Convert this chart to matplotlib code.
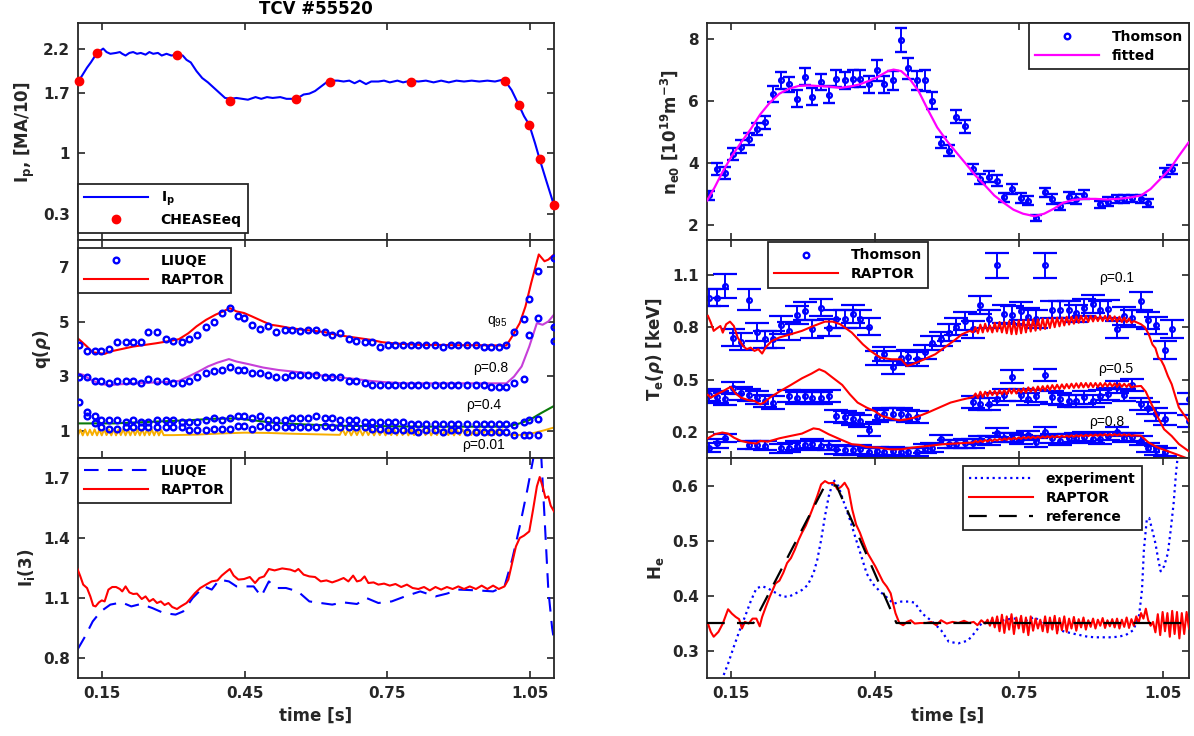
import numpy as np
import matplotlib
matplotlib.use('Agg')
import matplotlib.pyplot as plt
from matplotlib.lines import Line2D

plt.rcParams['font.family'] = ['DejaVu Sans']
plt.rcParams['font.weight'] = 'bold'
plt.rcParams['axes.labelweight'] = 'bold'
plt.rcParams['mathtext.fontset'] = 'dejavusans'

nan = np.nan

# ---------------- Plasma current ----------------
ip_t = [0.102,0.110,0.119,0.127,0.140,0.148,0.153,0.160,0.168,0.180,
        0.188,0.193,0.200,0.208,0.216,0.224,0.232,0.242,0.250,0.258,
        0.268,0.276,0.286,0.296,0.308,0.320,0.328,0.337,0.349,0.361,
        0.373,0.385,0.397,0.409,0.421,0.433,0.445,0.457,0.473,0.485,
        0.497,0.509,0.525,0.538,0.550,0.562,0.574,0.586,0.598,0.610,
        0.622,0.634,0.646,0.658,0.670,0.681,0.692,0.705,0.716,0.731,
        0.743,0.755,0.771,0.783,0.799,0.815,0.831,0.847,0.863,0.879,
        0.895,0.911,0.927,0.943,0.960,0.976,0.992,0.997,1.011,1.026,
        1.037,1.048,1.060,1.070,1.084,1.100]
ip_v = [1.84,1.91,1.99,2.05,2.16,2.19,2.21,2.17,2.15,2.16,
        2.17,2.15,2.13,2.16,2.17,2.15,2.16,2.14,2.17,2.15,
        2.16,2.13,2.15,2.13,2.14,2.13,2.08,2.05,1.95,1.87,
        1.82,1.76,1.70,1.64,1.63,1.64,1.63,1.62,1.65,1.63,
        1.65,1.64,1.65,1.63,1.63,1.64,1.68,1.69,1.72,1.77,
        1.82,1.84,1.84,1.83,1.84,1.81,1.84,1.80,1.83,1.83,
        1.84,1.82,1.84,1.82,1.84,1.83,1.84,1.82,1.84,1.82,
        1.84,1.83,1.84,1.83,1.84,1.83,1.85,1.84,1.73,1.56,
        1.43,1.33,1.12,0.93,0.68,0.40]
chease_t = [0.102,0.140,0.308,0.419,0.558,0.630,0.799,0.997,1.026,1.048,1.070,1.100]
chease_v = [1.84,2.16,2.14,1.60,1.63,1.82,1.82,1.84,1.56,1.33,0.93,0.40]

# ---------------- Safety factor ----------------
liuqe_t = [0.102,0.119,0.136,0.148,0.166,0.182,0.200,0.216,0.232,0.248,
           0.266,0.284,0.300,0.318,0.334,0.351,0.369,0.385,0.402,0.419,
           0.437,0.449,0.465,0.483,0.499,0.516,0.534,0.550,0.566,0.584,
           0.600,0.618,0.634,0.650,0.669,0.685,0.702,0.718,0.735,0.751,
           0.767,0.783,0.799,0.815,0.831,0.849,0.867,0.883,0.899,0.917,
           0.936,0.952,0.968,0.984,1.000,1.016,1.036,1.048,1.067,1.100]
liuqe_q95 = [4.15,3.93,3.94,3.94,4.01,4.24,4.24,4.24,4.24,4.61,
             4.61,4.36,4.30,4.24,4.36,4.52,4.80,4.98,5.32,5.50,
             5.20,5.13,4.89,4.74,4.83,4.61,4.68,4.68,4.67,4.68,
             4.68,4.61,4.50,4.58,4.36,4.30,4.24,4.24,4.09,4.15,
             4.15,4.15,4.15,4.15,4.15,4.15,4.09,4.15,4.15,4.15,
             4.15,4.09,4.09,4.09,4.15,4.61,5.11,5.85,6.88,7.34]
liuqe_q08 = [2.96,2.96,2.83,2.83,2.74,2.83,2.83,2.83,2.74,2.90,
             2.83,2.83,2.74,2.74,2.83,2.96,3.11,3.20,3.23,3.33,
             3.23,3.23,3.11,3.11,3.05,2.96,2.96,3.05,3.05,3.05,
             3.05,2.96,2.96,2.96,2.83,2.83,2.74,2.68,2.68,2.68,
             2.68,2.68,2.68,2.68,2.68,2.68,2.68,2.68,2.68,2.68,
             2.68,2.68,2.60,2.60,2.60,2.74,2.90,4.52,5.13,4.80]
liuqe_q04 = [2.07,1.68,1.53,1.39,1.39,1.39,1.32,1.39,1.32,1.32,
             1.39,1.39,1.39,1.32,1.32,1.32,1.39,1.47,1.41,1.47,
             1.53,1.53,1.47,1.53,1.39,1.39,1.39,1.47,1.47,1.47,
             1.53,1.47,1.47,1.39,1.39,1.39,1.32,1.32,1.32,1.32,
             1.32,1.32,1.24,1.24,1.24,1.24,1.24,1.24,1.24,1.24,
             1.24,1.24,1.24,1.24,1.24,1.21,1.33,1.39,1.43,4.31]
liuqe_q001 = [nan,1.53,1.29,1.15,1.08,1.08,1.12,1.12,1.12,1.12,
              1.12,1.12,1.12,1.12,1.03,1.03,1.03,1.08,1.08,1.08,
              1.18,1.18,1.08,1.18,1.12,1.15,1.12,1.15,1.15,1.15,
              1.15,1.18,1.15,1.12,1.12,1.12,1.12,1.06,1.06,1.02,
              1.02,1.02,1.02,0.96,1.02,1.02,0.96,1.02,1.02,0.96,
              0.96,0.96,0.96,0.96,0.96,0.84,0.84,0.84,0.84,nan]

rq95_t = [0.099,0.107,0.119,0.131,0.144,0.156,0.168,0.184,0.200,0.216,
          0.240,0.264,0.288,0.312,0.332,0.349,0.369,0.389,0.405,0.419,
          0.433,0.449,0.465,0.489,0.505,0.521,0.546,0.570,0.594,0.618,
          0.642,0.666,0.690,0.714,0.739,0.763,0.787,0.819,0.859,0.899,
          0.940,0.980,1.000,1.012,1.028,1.040,1.052,1.068,1.080,1.088,1.100]
rq95_v = [4.40,4.28,4.09,3.88,3.85,3.82,3.91,3.97,4.03,4.09,
          4.15,4.21,4.28,4.36,4.58,4.83,5.07,5.26,5.38,5.50,
          5.38,5.32,5.20,5.01,4.89,4.85,4.77,4.71,4.67,4.62,
          4.52,4.46,4.40,4.34,4.25,4.21,4.18,4.15,4.15,4.14,
          4.14,4.13,4.13,4.46,4.95,5.56,6.42,7.47,7.22,7.28,7.47]
rq08_t = [0.099,0.111,0.127,0.148,0.168,0.192,0.224,0.256,0.288,0.312,
          0.332,0.353,0.373,0.393,0.417,0.433,0.457,0.489,0.521,0.553,
          0.586,0.618,0.650,0.682,0.714,0.747,0.787,0.859,0.940,1.000,
          1.016,1.032,1.048,1.064,1.076,1.088,1.100]
rq08_v = [3.11,3.05,2.87,2.71,2.68,2.71,2.74,2.77,2.79,2.83,
          2.99,3.17,3.36,3.50,3.63,3.54,3.45,3.32,3.23,3.17,
          3.11,3.01,2.96,2.90,2.83,2.78,2.74,2.74,2.74,2.74,
          2.99,3.36,4.09,4.95,4.89,5.01,5.26]
rq04_t = [0.099,0.176,0.256,0.337,0.385,0.433,0.465,0.513,0.578,0.658,
          0.739,0.819,0.899,1.000,1.024,1.048,1.072,1.100]
rq04_v = [1.27,1.27,1.33,1.39,1.44,1.45,1.39,1.29,1.23,1.18,
          1.17,1.15,1.15,1.15,1.25,1.39,1.64,1.91]
rq001_t_a = [0.100,0.105,0.110,0.115,0.120,0.125,0.130,0.135,0.140,0.145,
             0.150,0.155,0.160,0.165,0.170,0.175,0.180,0.185,0.190,0.195,
             0.200,0.205,0.210,0.215,0.220,0.225,0.230,0.235,0.240,0.245,
             0.250,0.255,0.260,0.265,0.270,0.275,0.280]
rq001_v_a = [0.84,1.04,0.83,1.05,0.83,1.04,0.84,1.05,0.83,1.04,
             0.83,1.05,0.84,1.04,0.83,1.05,0.83,1.04,0.84,1.05,
             0.83,1.04,0.83,1.05,0.84,1.04,0.83,1.05,0.83,1.04,
             0.84,1.05,0.83,1.04,0.83,1.03,0.84]
rq001_t_b = [0.290,0.300,0.350,0.400,0.450,0.500,0.550,0.600,0.650]
rq001_v_b = [0.84,0.84,0.86,0.90,0.93,0.92,0.89,0.87,0.85]
rq001_t_c = [0.656,0.662,0.668,0.674,0.680,0.686,0.692,0.698,0.704,0.710,
             0.716,0.722,0.728,0.734,0.740,0.746,0.752,0.758,0.764,0.770,
             0.776,0.782,0.788,0.794,0.800,0.806,0.812,0.818,0.824,0.830,
             0.836,0.842,0.848,0.854,0.860,0.866,0.872,0.878,0.884,0.890,
             0.896,0.902,0.908,0.914,0.920,0.926,0.932,0.938,0.944,0.950,
             0.956,0.962,0.968,0.974,0.980,0.986,0.992,0.998]
rq001_v_c = [1.05,0.84,1.05,0.83,1.04,0.84,1.05,0.83,1.05,0.84,
             1.04,0.83,1.05,0.84,1.05,0.83,1.04,0.84,1.05,0.83,
             1.05,0.84,1.04,0.83,1.05,0.84,1.05,0.83,1.04,0.84,
             1.05,0.83,1.05,0.84,1.04,0.83,1.05,0.84,1.05,0.83,
             1.04,0.84,1.05,0.83,1.05,0.84,1.04,0.83,1.05,0.84,
             1.05,0.83,1.04,0.84,1.05,0.83,1.05,0.84]
rq001_t_d = [1.004,1.020,1.040,1.060,1.080,1.100]
rq001_v_d = [0.86,0.84,0.86,0.93,1.02,1.12]

# ---------------- Internal inductance ----------------
li_r_t = [0.099,0.105,0.111,0.119,0.126,0.132,0.137,0.144,0.150,0.156,
          0.164,0.172,0.180,0.188,0.193,0.200,0.208,0.216,0.224,0.234,
          0.242,0.250,0.258,0.266,0.274,0.282,0.290,0.298,0.308,0.316,
          0.328,0.337,0.346,0.357,0.369,0.381,0.393,0.402,0.410,0.419,
          0.427,0.437,0.449,0.461,0.472,0.481,0.491,0.501,0.513,0.529,
          0.546,0.556,0.563,0.574,0.586,0.598,0.610,0.622,0.634,0.646,
          0.658,0.668,0.678,0.686,0.694,0.702,0.710,0.721,0.731,0.743,
          0.755,0.767,0.779,0.791,0.803,0.815,0.827,0.839,0.851,0.863,
          0.875,0.887,0.899,0.911,0.923,0.936,0.948,0.960,0.972,0.984,
          0.996,1.004,1.012,1.020,1.028,1.037,1.048,1.056,1.064,1.070,
          1.076,1.082,1.088,1.093,1.100]
li_r_v = [1.245,1.208,1.167,1.150,1.108,1.062,1.058,1.078,1.088,1.083,
          1.142,1.155,1.155,1.145,1.133,1.158,1.128,1.120,1.122,1.095,
          1.108,1.083,1.095,1.075,1.083,1.065,1.075,1.055,1.045,1.058,
          1.075,1.100,1.125,1.150,1.167,1.183,1.188,1.212,1.228,1.245,
          1.212,1.192,1.195,1.205,1.175,1.200,1.208,1.245,1.238,1.248,
          1.242,1.233,1.245,1.217,1.208,1.205,1.183,1.188,1.178,1.188,
          1.200,1.183,1.212,1.183,1.188,1.208,1.175,1.178,1.167,1.172,
          1.162,1.170,1.155,1.167,1.150,1.145,1.155,1.138,1.155,1.142,
          1.155,1.145,1.158,1.145,1.158,1.145,1.162,1.145,1.162,1.145,
          1.158,1.192,1.275,1.358,1.400,1.412,1.433,1.542,1.658,1.705,
          1.658,1.600,1.608,1.562,1.533]
li_l_t = [0.099,0.115,0.131,0.148,0.168,0.192,0.212,0.232,0.256,0.280,
          0.305,0.321,0.341,0.365,0.381,0.397,0.417,0.433,0.453,0.469,
          0.485,0.501,0.517,0.537,0.562,0.586,0.610,0.634,0.658,0.686,
          0.706,0.731,0.759,0.787,0.819,0.851,0.875,0.899,0.940,0.972,
          0.996,1.012,1.028,1.044,1.056,1.064,1.072,1.080,1.088,1.096,1.100]
li_l_v = [0.842,0.908,0.983,1.033,1.067,1.078,1.058,1.070,1.050,1.025,
          1.017,1.033,1.100,1.158,1.142,1.192,1.183,1.158,1.158,1.158,
          1.108,1.183,1.150,1.150,1.133,1.083,1.075,1.067,1.078,1.070,
          1.100,1.075,1.083,1.108,1.133,1.108,1.122,1.142,1.138,1.133,
          1.158,1.292,1.458,1.642,1.792,1.900,1.860,1.508,1.142,0.950,0.890]

# ---------------- Thomson (shared sampling) ----------------
ts_t = [0.104,0.120,0.137,0.154,0.170,0.187,0.204,0.220,0.237,0.254,
        0.270,0.287,0.304,0.320,0.337,0.354,0.370,0.387,0.404,0.420,
        0.437,0.454,0.470,0.487,0.504,0.520,0.537,0.554,0.570,0.587,
        0.604,0.620,0.637,0.654,0.670,0.687,0.704,0.720,0.737,0.754,
        0.770,0.787,0.804,0.820,0.837,0.854,0.870,0.887,0.904,0.920,
        0.937,0.954,0.970,0.987,1.004,1.020,1.037,1.054,1.070,1.087,1.104]
ne_v = [2.94,3.79,3.67,4.28,4.52,4.76,5.08,5.30,6.21,6.66,
        6.53,6.07,6.78,6.13,6.61,6.20,6.71,6.66,6.72,6.71,
        6.53,6.98,6.53,6.66,7.96,7.05,6.66,6.66,6.00,4.65,
        4.38,5.49,5.17,3.79,3.47,3.55,3.42,2.88,3.15,2.86,
        2.77,2.22,3.04,2.83,2.59,2.88,2.83,2.97,nan,2.65,
        2.74,2.83,2.83,2.85,2.83,2.69,nan,3.69,3.79,nan,nan]
ne_err = [0.15,0.19,0.20,0.20,0.20,0.20,0.20,0.20,0.26,0.27,
          0.25,0.27,0.27,0.27,0.27,0.27,0.27,0.27,0.27,0.27,
          0.28,0.35,0.28,0.30,0.38,0.35,0.30,0.35,0.28,0.18,
          0.18,0.22,0.20,0.17,0.16,0.17,0.18,0.15,0.17,0.15,
          0.15,0.10,0.15,0.15,0.12,0.17,0.15,0.15,nan,0.12,
          0.15,0.12,0.12,0.12,0.12,0.12,nan,0.15,0.15,nan,nan]
ne_fit_t = [0.100,0.116,0.132,0.152,0.171,0.191,0.211,0.231,0.251,0.271,
            0.291,0.310,0.330,0.354,0.378,0.398,0.418,0.437,0.457,0.477,
            0.489,0.505,0.521,0.541,0.560,0.580,0.600,0.620,0.640,0.660,
            0.680,0.699,0.719,0.739,0.759,0.783,0.803,0.823,0.842,0.862,
            0.886,0.910,0.934,0.957,0.981,1.005,1.025,1.045,1.065,1.084,1.104]
ne_fit_v = [2.77,3.20,3.69,4.22,4.65,5.08,5.56,5.94,6.23,6.39,
            6.48,6.50,6.48,6.46,6.42,6.46,6.53,6.64,6.78,6.96,
            7.01,6.96,6.74,6.32,5.73,5.14,4.71,4.33,3.96,3.58,
            3.26,2.94,2.70,2.48,2.35,2.27,2.35,2.51,2.70,2.79,
            2.83,2.83,2.81,2.83,2.87,2.94,3.15,3.47,3.79,4.22,4.65]

te01_v = [0.970,0.970,1.037,0.741,0.718,0.957,0.773,0.731,0.731,0.812,
          0.779,0.869,0.894,0.789,0.913,0.798,0.846,0.846,0.875,0.846,
          0.804,0.626,0.645,0.569,0.626,0.632,0.620,0.659,0.708,0.735,
          0.769,0.804,0.836,0.788,0.928,0.846,1.155,0.875,0.869,0.894,
          0.861,0.846,1.155,0.900,0.900,0.900,0.880,0.913,0.932,0.900,
          0.904,0.788,0.865,0.850,0.950,0.840,0.810,0.670,0.790,nan,0.390]
te01_err = [0.05,0.05,0.07,0.05,0.05,0.06,0.05,0.05,0.05,0.05,
            0.05,0.05,0.05,0.05,0.05,0.05,0.05,0.05,0.05,0.05,
            0.05,0.04,0.04,0.04,0.04,0.04,0.04,0.04,0.04,0.04,
            0.05,0.05,0.05,0.05,0.05,0.05,0.07,0.05,0.05,0.05,
            0.05,0.05,0.07,0.05,0.05,0.05,0.05,0.05,0.05,0.05,
            0.05,0.05,0.05,0.05,0.05,0.05,0.05,0.05,0.05,nan,0.03]
te05_v = [0.410,0.400,0.390,0.450,0.420,0.410,0.397,0.378,0.368,nan,
          0.406,0.393,0.406,0.393,0.393,0.406,0.292,0.283,0.273,0.264,
          0.211,0.292,0.302,0.302,0.302,0.290,0.285,nan,nan,nan,
          nan,nan,nan,0.370,0.359,0.359,0.388,0.411,0.517,0.411,
          0.388,0.407,0.525,0.397,0.388,0.378,0.378,0.397,0.378,0.403,
          0.416,0.455,0.412,0.470,0.358,0.339,0.300,0.272,nan,nan,0.260]
te05_err = 0.035
te08_v = [0.110,0.135,0.164,nan,nan,0.125,0.124,0.120,nan,0.105,
          0.110,0.120,0.125,0.133,0.120,0.120,0.100,0.095,0.095,0.100,
          0.082,0.090,0.085,0.090,0.085,0.082,0.085,0.104,0.110,0.158,
          0.130,0.130,0.135,0.135,0.154,0.150,0.196,0.167,0.167,0.158,
          0.181,0.139,0.200,0.162,0.148,0.162,0.167,0.173,0.160,0.158,
          0.177,0.200,0.167,0.170,0.150,0.110,0.094,0.085,nan,nan,nan]
te08_err = 0.025

# RAPTOR Te
te_zig_t = [0.655,0.660,0.665,0.670,0.675,0.680,0.685,0.690,0.695,0.700,
            0.705,0.710,0.715,0.720,0.725,0.730,0.735,0.740,0.745,0.750,
            0.755,0.760,0.765,0.770,0.775,0.780,0.785,0.790,0.795,0.800,
            0.805,0.810,0.815,0.820,0.825,0.830,0.835,0.840,0.845,0.850,
            0.855,0.860,0.865,0.870,0.875,0.880,0.885,0.890,0.895,0.900,
            0.905,0.910,0.915,0.920,0.925,0.930,0.935,0.940,0.945,0.950,
            0.955,0.960,0.965,0.970,0.975,0.980,0.985]
rte01_t_a = [0.102,0.108,0.114,0.120,0.128,0.133,0.140,0.148,0.156,0.164,
             0.175,0.183,0.191,0.199,0.207,0.215,0.223,0.235,0.251,0.275,
             0.298,0.322,0.346,0.362,0.378,0.402,0.425,0.441,0.461,0.485,
             0.505,0.517,0.525,0.537,0.553,0.576,0.600,0.616,0.632,0.648]
rte01_v_a = [0.865,0.827,0.779,0.792,0.807,0.769,0.817,0.832,0.807,0.741,
             0.693,0.674,0.683,0.664,0.674,0.649,0.687,0.721,0.741,0.760,
             0.779,0.807,0.832,0.832,0.817,0.769,0.702,0.664,0.626,0.616,
             0.616,0.578,0.584,0.597,0.616,0.645,0.693,0.725,0.760,0.779]
rte01_v_zig = [0.770,0.800,0.765,0.815,0.770,0.820,0.775,0.810,0.770,0.825,
               0.775,0.830,0.770,0.830,0.765,0.835,0.760,0.835,0.760,0.840,
               0.765,0.840,0.770,0.845,0.775,0.845,0.780,0.845,0.785,0.850,
               0.790,0.850,0.795,0.855,0.800,0.855,0.805,0.855,0.810,0.860,
               0.815,0.860,0.820,0.862,0.825,0.865,0.828,0.865,0.830,0.865,
               0.833,0.865,0.835,0.865,0.835,0.865,0.837,0.866,0.835,0.862,
               0.830,0.860,0.830,0.855,0.828,0.850,0.825]
rte01_t_c = [0.990,1.005,1.013,1.021,1.029,1.035,1.041,1.047,1.053,1.061,
             1.069,1.077,1.084,1.094,1.104]
rte01_v_c = [0.835,0.817,0.800,0.760,0.700,0.680,0.626,0.610,0.578,0.520,
             0.473,0.400,0.339,0.300,0.263]
rte05_t_a = [0.102,0.108,0.120,0.132,0.144,0.150,0.160,0.171,0.187,0.199,
             0.211,0.219,0.231,0.251,0.275,0.298,0.318,0.334,0.346,0.362,
             0.382,0.398,0.414,0.433,0.449,0.465,0.481,0.501,0.517,0.537,
             0.560,0.584,0.608,0.632,0.648]
rte05_v_a = [0.412,0.396,0.415,0.431,0.450,0.458,0.419,0.396,0.381,0.377,
             0.358,0.368,0.396,0.431,0.469,0.507,0.534,0.559,0.545,0.511,
             0.469,0.415,0.368,0.339,0.320,0.291,0.278,0.266,0.272,0.285,
             0.310,0.339,0.368,0.385,0.395]
rte05_v_zig = [0.400,0.420,0.395,0.430,0.400,0.430,0.405,0.435,0.410,0.435,
               0.410,0.440,0.415,0.440,0.415,0.445,0.420,0.445,0.420,0.445,
               0.425,0.450,0.425,0.455,0.430,0.455,0.430,0.460,0.435,0.462,
               0.437,0.465,0.440,0.468,0.443,0.470,0.445,0.472,0.448,0.474,
               0.450,0.476,0.452,0.478,0.453,0.480,0.455,0.480,0.455,0.480,
               0.456,0.480,0.457,0.480,0.458,0.480,0.460,0.480,0.460,0.478,
               0.458,0.478,0.458,0.476,0.457,0.475,0.455]
rte05_t_c = [0.990,1.005,1.015,1.025,1.037,1.053,1.069,1.084,1.104]
rte05_v_c = [0.460,0.463,0.430,0.370,0.300,0.215,0.176,0.130,0.090]
rte08_t_a = [0.102,0.116,0.132,0.144,0.156,0.171,0.187,0.203,0.211,0.227,
             0.251,0.275,0.298,0.322,0.334,0.354,0.378,0.402,0.418,0.433,
             0.457,0.481,0.505,0.529,0.560,0.592,0.624,0.648]
rte08_v_a = [0.163,0.186,0.196,0.190,0.167,0.148,0.138,0.133,0.148,0.144,
             0.163,0.177,0.190,0.220,0.215,0.186,0.157,0.129,0.125,0.113,
             0.110,0.100,0.100,0.110,0.119,0.129,0.134,0.138]
rte08_v_zig = [0.138,0.148,0.140,0.150,0.142,0.153,0.145,0.155,0.147,0.158,
               0.150,0.160,0.152,0.162,0.154,0.164,0.156,0.166,0.158,0.168,
               0.160,0.170,0.162,0.171,0.163,0.172,0.164,0.173,0.165,0.174,
               0.166,0.175,0.167,0.176,0.168,0.177,0.169,0.178,0.170,0.179,
               0.171,0.180,0.172,0.181,0.173,0.182,0.174,0.183,0.175,0.184,
               0.176,0.185,0.177,0.186,0.178,0.187,0.179,0.187,0.179,0.187,
               0.179,0.186,0.178,0.186,0.178,0.185,0.177]
rte08_t_c = [0.990,1.005,1.020,1.040,1.060,1.080,1.104]
rte08_v_c = [0.180,0.178,0.140,0.110,0.090,0.070,0.045]

# ---------------- H_e ----------------
he_exp_t = [0.128,0.132,0.144,0.156,0.167,0.179,0.191,0.203,0.215,0.227,0.243,
            0.257,0.271,0.283,0.298,0.310,0.322,0.330,0.338,0.346,0.354,
            0.364,0.374,0.386,0.398,0.410,0.422,0.433,0.445,0.461,0.477,
            0.489,0.505,0.521,0.533,0.549,0.568,0.588,0.604,0.624,0.644,
            0.660,0.672,0.688,0.703,0.719,0.735,0.751,0.767,0.783,0.799,
            0.815,0.831,0.847,0.862,0.878,0.894,0.910,0.926,0.942,0.957,
            0.973,0.989,1.001,1.007,1.011,1.017,1.022,1.029,1.035,1.041,
            1.046,1.053,1.061,1.067,1.073,1.078,1.083]
he_exp_v = [0.235,0.249,0.276,0.307,0.334,0.361,0.389,0.413,0.417,0.413,0.405,
            0.398,0.398,0.403,0.410,0.419,0.440,0.465,0.501,0.544,0.581,
            0.610,0.599,0.568,0.538,0.504,0.471,0.440,0.422,0.407,0.395,
            0.385,0.389,0.389,0.387,0.367,0.354,0.337,0.316,0.313,0.318,
            0.334,0.349,0.352,0.355,0.355,0.358,0.358,0.355,0.361,0.349,
            0.343,0.338,0.334,0.331,0.328,0.325,0.324,0.324,0.324,0.325,
            0.328,0.337,0.364,0.410,0.483,0.538,0.541,0.517,0.495,0.465,
            0.444,0.453,0.477,0.520,0.568,0.623,0.666]
he_r_t_a = [0.102,0.108,0.114,0.124,0.133,0.144,0.152,0.160,0.167,0.173,
            0.179,0.187,0.195,0.203,0.210,0.215,0.223,0.231,0.243,0.251,
            0.259,0.267,0.275,0.283,0.291,0.298,0.306,0.314,0.322,0.330,
            0.338,0.346,0.354,0.364,0.372,0.380,0.387,0.395,0.403,0.411,
            0.419,0.427,0.435,0.443,0.451,0.459,0.467,0.475,0.483,0.487,
            0.493,0.501,0.509,0.517,0.525,0.533,0.545,0.557,0.568,0.578,
            0.588,0.600,0.612,0.624,0.636,0.646,0.656,0.664,0.672]
he_r_v_a = [0.349,0.334,0.325,0.334,0.349,0.375,0.367,0.361,0.357,0.340,
            0.352,0.349,0.358,0.358,0.344,0.361,0.380,0.398,0.422,0.427,
            0.441,0.459,0.468,0.483,0.501,0.514,0.527,0.544,0.562,0.581,
            0.602,0.608,0.604,0.605,0.593,0.598,0.605,0.593,0.556,0.529,
            0.514,0.495,0.477,0.465,0.453,0.439,0.425,0.416,0.404,0.389,
            0.368,0.350,0.346,0.352,0.355,0.349,0.350,0.350,0.352,0.346,
            0.355,0.349,0.352,0.350,0.354,0.350,0.352,0.346,0.355]
he_r_t_b = [0.680,0.685,0.690,0.695,0.700,0.705,0.710,0.715,0.720,0.725,
            0.730,0.735,0.740,0.745,0.750,0.755,0.760,0.765,0.770,0.775,
            0.780,0.785,0.790,0.795,0.800,0.805,0.810,0.815,0.820,0.825,
            0.830,0.835,0.840,0.845,0.850,0.855,0.860,0.865,0.870,0.875,
            0.880,0.885,0.890,0.895,0.900,0.905,0.910,0.915,0.920,0.925,
            0.930,0.935,0.940,0.945,0.950,0.955,0.960,0.965,0.970,0.975,
            0.980,0.985,0.990,0.995,1.000,1.005,1.010,1.015,1.020,1.025,
            1.030,1.035,1.040,1.045,1.050,1.055,1.060,1.065,1.070,1.075,
            1.080,1.085,1.090,1.095,1.100,1.105]
he_r_v_b = [0.349,0.356,0.345,0.360,0.342,0.362,0.335,0.365,0.332,0.362,
            0.338,0.366,0.330,0.360,0.340,0.363,0.333,0.360,0.328,0.362,
            0.336,0.358,0.340,0.356,0.335,0.362,0.333,0.360,0.338,0.363,
            0.331,0.359,0.337,0.362,0.334,0.358,0.340,0.361,0.336,0.357,
            0.342,0.360,0.338,0.355,0.343,0.358,0.340,0.356,0.345,0.359,
            0.341,0.355,0.344,0.357,0.342,0.358,0.340,0.356,0.343,0.360,
            0.341,0.357,0.345,0.362,0.350,0.368,0.358,0.376,0.355,0.345,
            0.352,0.333,0.366,0.328,0.370,0.335,0.368,0.325,0.372,0.330,
            0.370,0.322,0.368,0.330,0.370,0.340]
he_ref_t = [0.100,0.197,0.346,0.370,0.495,1.105]
he_ref_v = [0.35,0.35,0.60,0.60,0.35,0.35]

# ---------------- Figure ----------------
DARK = '#262626'
BLUE = '#0000FF'
RED = '#FF0000'
MAG_Q = '#C63FD9'
GREEN = '#0A7A0A'
ORANGE = '#F7AE00'
XT = [0.15, 0.45, 0.75, 1.05]

fig = plt.figure(figsize=(11.94, 7.36), dpi=100)
LX, LW = 0.0653, 0.3987
RX, RW = 0.5921, 0.4037
rows = [(0.6739, 0.2942), (0.3777, 0.2962), (0.0788, 0.2989)]
axL = [fig.add_axes([LX, b, LW, h]) for b, h in rows]
axR = [fig.add_axes([RX, b, RW, h]) for b, h in rows]


def style(ax, xlim, ylim, yt, ytl, bottom):
    ax.set_xlim(*xlim)
    ax.set_ylim(*ylim)
    ax.set_xticks(XT)
    ax.set_xticklabels(['0.15', '0.45', '0.75', '1.05'])
    ax.set_yticks(yt)
    ax.set_yticklabels(ytl)
    ax.tick_params(direction='in', top=True, right=True, length=5, width=1.2,
                   color=DARK, labelcolor=DARK, labelsize=11, pad=6)
    if not bottom:
        ax.tick_params(labelbottom=False)
    else:
        ax.set_xlabel('time [s]', fontsize=12, color=DARK, labelpad=4)
    for s in ax.spines.values():
        s.set_color(DARK)
        s.set_linewidth(1.3)


def legend(ax, handles, labels, **kw):
    lg = ax.legend(handles, labels, prop={'weight': 'bold', 'size': 10},
                   frameon=True, fancybox=False, framealpha=1, edgecolor=DARK,
                   borderaxespad=0, handlelength=4.6, handletextpad=0.9,
                   labelspacing=0.35, borderpad=0.45, **kw)
    lg.get_frame().set_linewidth(1.3)
    for t in lg.get_texts():
        t.set_color('black')
    return lg

ann = dict(family=['Liberation Sans', 'DejaVu Sans'], fontweight='normal',
           fontsize=10, color='black', ha='center', va='center')

# Panel: Ip
ax = axL[0]
ax.plot(ip_t, ip_v, color=BLUE, lw=1.5, zorder=2)
ax.plot(chease_t, chease_v, 'o', color=RED, ms=6, mec=RED, zorder=3, clip_on=False)
style(ax, (0.1, 1.1), (0, 2.5), [0.3, 1, 1.7, 2.2], ['0.3', '1', '1.7', '2.2'], False)
ax.set_ylabel(r'I$_\mathbf{p}$, [MA/10]', fontsize=12, color=DARK)
ax.set_title('TCV #55520', fontsize=12, fontweight='bold', color='black', pad=7)
legend(ax, [Line2D([], [], color=BLUE, lw=1.5),
            Line2D([], [], marker='o', ls='none', color=RED, ms=6)],
       [r'I$_\mathbf{p}$', 'CHEASEeq'], loc='lower left', bbox_to_anchor=(0.0, 0.031))

# Panel: q
ax = axL[1]
ax.plot(np.concatenate([rq001_t_a, rq001_t_b, rq001_t_c, rq001_t_d]),
        np.concatenate([rq001_v_a, rq001_v_b, rq001_v_c, rq001_v_d]),
        color=ORANGE, lw=1.4, zorder=2)
ax.plot(rq04_t, rq04_v, color=GREEN, lw=1.5, zorder=2)
ax.plot(rq08_t, rq08_v, color=MAG_Q, lw=1.5, zorder=2)
ax.plot(rq95_t, rq95_v, color=RED, lw=1.5, zorder=2)
for series in (liuqe_q95, liuqe_q08, liuqe_q04, liuqe_q001):
    ax.plot(liuqe_t, series, 'o', color=BLUE, ms=4.1, mfc='none', mew=1.7, zorder=3)
style(ax, (0.1, 1.1), (0, 8), [1, 3, 5, 7], ['1', '3', '5', '7'], False)
ax.set_ylabel(r'q($\rho$)', fontsize=12, color=DARK)
ax.text(0.980, 5.0, r'q$_\mathregular{95}$', **ann)
ax.text(0.968, 3.29, 'ρ=0.8', **ann)
ax.text(0.952, 1.94, 'ρ=0.4', **ann)
ax.text(0.952, 0.47, 'ρ=0.01', **ann)
legend(ax, [Line2D([], [], marker='o', ls='none', color=BLUE, ms=4.1, mfc='none', mew=1.7),
            Line2D([], [], color=RED, lw=1.5)],
       ['LIUQE', 'RAPTOR'], loc='upper left', bbox_to_anchor=(0.0, 0.965))

# Panel: li
ax = axL[2]
ax.plot(li_l_t, li_l_v, color=BLUE, lw=1.5, dashes=(7, 4.5), zorder=2)
ax.plot(li_r_t, li_r_v, color=RED, lw=1.5, zorder=3)
style(ax, (0.1, 1.1), (0.7, 1.8), [0.8, 1.1, 1.4, 1.7], ['0.8', '1.1', '1.4', '1.7'], True)
ax.set_ylabel(r'I$_\mathbf{i}$(3)', fontsize=12, color=DARK)
legend(ax, [Line2D([], [], color=BLUE, lw=1.5, dashes=(7, 4.5)),
            Line2D([], [], color=RED, lw=1.5)],
       ['LIUQE', 'RAPTOR'], loc='upper left', bbox_to_anchor=(0.0, 1.0))

# Panel: ne0
ax = axR[0]
ax.errorbar(ts_t, ne_v, yerr=ne_err, fmt='o', color=BLUE, ms=3.4, mfc='none', mew=1.7,
            elinewidth=1.4, capsize=4, capthick=1.4, zorder=2)
ax.plot(ne_fit_t, ne_fit_v, color='#FF00FF', lw=1.6, zorder=3)
style(ax, (0.1, 1.105), (1.5, 8.5), [2, 4, 6, 8], ['2', '4', '6', '8'], False)
ax.set_ylabel(r'n$_\mathbf{e0}$ [10$^\mathbf{19}$m$^\mathbf{-3}$]', fontsize=12, color=DARK)
legend(ax, [Line2D([], [], marker='o', ls='none', color=BLUE, ms=4, mfc='none', mew=1.7),
            Line2D([], [], color='#FF00FF', lw=1.6)],
       ['Thomson', 'fitted'], loc='upper right', bbox_to_anchor=(1.0, 1.0))

# Panel: Te
ax = axR[1]
for vals, err in ((te01_v, te01_err), (te05_v, te05_err), (te08_v, te08_err)):
    ax.errorbar(ts_t, vals, yerr=err, fmt='o', color=BLUE, ms=3.4, mfc='none', mew=1.6,
                elinewidth=1.4, capsize=8.4, capthick=1.4, zorder=2)
for ta, va, vz, tc, vc in ((rte01_t_a, rte01_v_a, rte01_v_zig, rte01_t_c, rte01_v_c),
                           (rte05_t_a, rte05_v_a, rte05_v_zig, rte05_t_c, rte05_v_c),
                           (rte08_t_a, rte08_v_a, rte08_v_zig, rte08_t_c, rte08_v_c)):
    ax.plot(np.concatenate([ta, te_zig_t, tc]), np.concatenate([va, vz, vc]),
            color=RED, lw=1.5, zorder=3)
style(ax, (0.1, 1.105), (0.05, 1.3), [0.2, 0.5, 0.8, 1.1], ['0.2', '0.5', '0.8', '1.1'], False)
ax.set_ylabel(r'T$_\mathbf{e}$($\rho$) [keV]', fontsize=12, color=DARK)
ax.text(0.955, 1.085, 'ρ=0.1', **ann)
ax.text(0.953, 0.559, 'ρ=0.5', **ann)
ax.text(0.934, 0.257, 'ρ=0.8', **ann)
legend(ax, [Line2D([], [], marker='o', ls='none', color=BLUE, ms=4, mfc='none', mew=1.7),
            Line2D([], [], color=RED, lw=1.5)],
       ['Thomson', 'RAPTOR'], loc='upper left', bbox_to_anchor=(0.127, 0.99))

# Panel: He
ax = axR[2]
ax.plot(he_exp_t, he_exp_v, color=BLUE, lw=1.6, ls=':', zorder=2)
ax.plot(np.concatenate([he_r_t_a, he_r_t_b]), np.concatenate([he_r_v_a, he_r_v_b]),
        color=RED, lw=1.5, zorder=3)
ax.plot(he_ref_t, he_ref_v, color='black', lw=1.6, dashes=(8, 5.5), zorder=4)
style(ax, (0.1, 1.105), (0.25, 0.65), [0.3, 0.4, 0.5, 0.6], ['0.3', '0.4', '0.5', '0.6'], True)
ax.set_ylabel(r'H$_\mathbf{e}$', fontsize=12, color=DARK)
legend(ax, [Line2D([], [], color=BLUE, lw=1.6, ls=':'),
            Line2D([], [], color=RED, lw=1.5),
            Line2D([], [], color='black', lw=1.6, dashes=(8, 5.5))],
       ['experiment', 'RAPTOR', 'reference'], loc='upper right', bbox_to_anchor=(0.902, 0.965))

fig.savefig('out.png', dpi=100)
